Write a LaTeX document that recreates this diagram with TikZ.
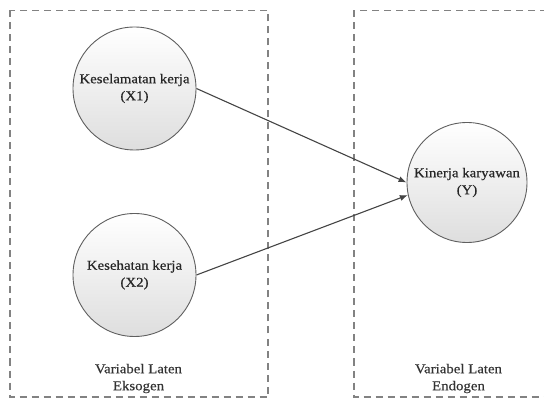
\documentclass[tikz,border=0pt]{standalone}
\usepackage{fontspec}
\setmainfont{Liberation Serif}[FakeStretch=1.1,FakeBold=0.4]
\usetikzlibrary{arrows.meta,positioning}
\definecolor{boxgray}{RGB}{130,130,130}
\definecolor{rimgray}{RGB}{95,95,95}
\definecolor{linegray}{RGB}{68,68,68}
\tikzset{
  kotak/.style={
    draw=boxgray,
    line width=1.2pt,
    dash pattern=on 7pt off 5pt,
    inner sep=0pt
  },
  laten/.style={
    circle,
    draw=rimgray,
    line width=0.9pt,
    top color=white,
    bottom color=black!13,
    minimum size=123pt,
    inner sep=0pt,
    align=center,
    text=black!85,
    font=\fontsize{13.5}{17}\selectfont
  },
  judul/.style={
    align=center,
    text=black!80,
    font=\fontsize{13.5}{17}\selectfont
  },
  panah/.style={
    -{Latex[length=8pt,width=6pt]},
    line width=1.1pt,
    linegray
  }
}

\begin{document}
\begin{tikzpicture}[x=1pt,y=-1pt]
\useasboundingbox (0,0) rectangle (544,398);
% kotak variabel
\draw[kotak] (10,10.5) rectangle (268,397);
\draw[kotak] (354,10.5) rectangle (550,397);
% variabel laten
\node[laten] (x1) at (134.5,88.5) {Keselamatan kerja\\(X1)};
\node[laten] (x2) at (134.5,275) {Kesehatan kerja\\(X2)};
\node[laten,minimum size=120pt] (y) at (467,182.5) {Kinerja karyawan\\(Y)};
\node[judul] (eksogen) at (138.5,378.5) {Variabel Laten\\Eksogen};
\node[judul] (endogen) at (458.5,378.5) {Variabel Laten\\Endogen};
% jalur
\draw[panah] (x1.east) -- (y.180);
\draw[panah] (x2.east) -- (y.192);
\end{tikzpicture}
\end{document}
